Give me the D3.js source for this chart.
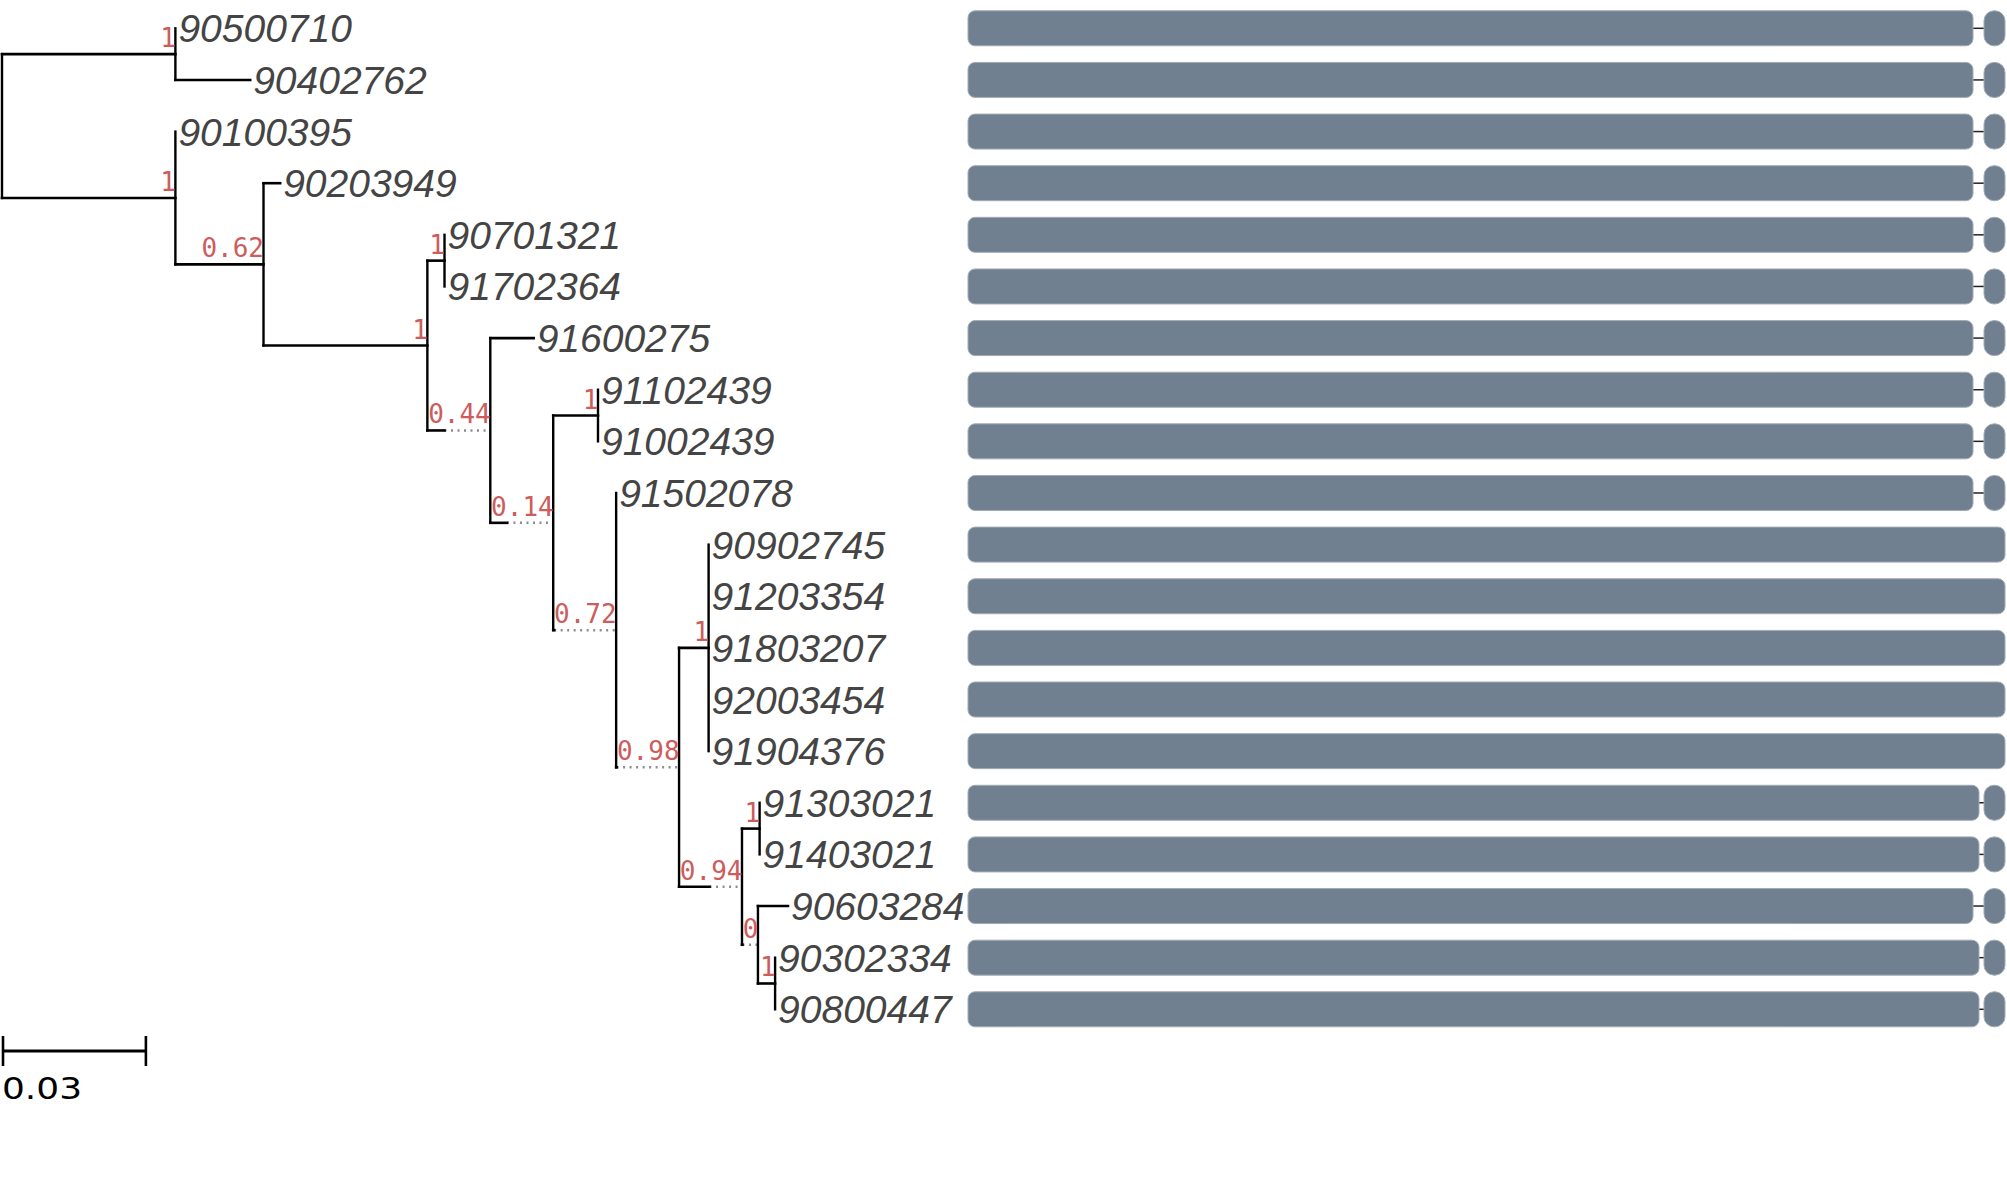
<!DOCTYPE html>
<html>
<head>
<meta charset="utf-8">
<script src="https://cdn.jsdelivr.net/npm/d3@7"></script>
<style>
  body { margin: 0; background: #fff; }
  svg { display: block; }
</style>
</head>
<body>
<div id="tree-plot"></div>
<script>
// tree: parallel arrays, order of children = order of rows
const nodeIds = [
  "root", "A", "90500710", "90402762", "B", "90100395", "C", "90203949",
  "D", "F", "90701321", "91702364", "E", "91600275", "G", "H",
  "91102439", "91002439", "I", "91502078", "J", "K", "90902745", "91203354",
  "91803207", "92003454", "91904376", "L", "M", "91303021", "91403021", "N",
  "90603284", "O", "90302334", "90800447"
];
const parentIds = [
  "", "root", "A", "A", "root", "B", "B", "C",
  "C", "D", "F", "F", "D", "E", "E", "G",
  "H", "H", "G", "I", "I", "J", "K", "K",
  "K", "K", "K", "J", "L", "M", "M", "L",
  "N", "N", "O", "O"
];
const branchLengths = [
  0, 0.0364, 0, 0.0157, 0.0364, 0, 0.0185, 0.0035,
  0.0344, 0.0036, 0, 0, 0.0036, 0.0091, 0.0035, 0.0094,
  0, 0, 0.0002, 0, 0.0001, 0.0062, 0, 0,
  0, 0, 0, 0.0064, 0.0037, 0, 0, 0.0001,
  0.0063, 0.0036, 0, 0
];
const supports = [
  null, "1", null, null, "1", null, "0.62", null,
  "1", "1", null, null, "0.44", null, "0.14", "1",
  null, null, "0.72", null, "0.98", "1", null, null,
  null, null, null, "0.94", "1", null, null, "0",
  null, "1", null, null
];

// domain faces, one per leaf in row order (sequence units)
const leafOrder = [
  "90500710", "90402762", "90100395", "90203949", "90701321", "91702364",
  "91600275", "91102439", "91002439", "91502078", "90902745", "91203354",
  "91803207", "92003454", "91904376", "91303021", "91403021", "90603284",
  "90302334", "90800447"
];
const mainEnd = [
  1005, 1005, 1005, 1005, 1005, 1005, 1005, 1005, 1005, 1005,
  1037, 1037, 1037, 1037, 1037, 1011, 1011, 1005, 1011, 1011
];
const tailStart = [
  1016, 1016, 1016, 1016, 1016, 1016, 1016, 1016, 1016, 1016,
  null, null, null, null, null, 1016, 1016, 1016, 1016, 1016
];
const seqLength = 1037;
const scaleBarValue = 0.03;

const width = 2007, height = 1179;

const svg = d3.select("#tree-plot").append("svg")
  .attr("width", width)
  .attr("height", height);

const table = nodeIds.map((id, i) => ({
  id: id, parent: parentIds[i] || null, bl: branchLengths[i], support: supports[i]
}));
const root = d3.stratify().id(d => d.id).parentId(d => d.parent)(table);

const xScale = d3.scaleLinear().domain([0, scaleBarValue]).range([0, 142.9]);
const yScale = d3.scalePoint().domain(leafOrder).range([28.3, 1009.3]);
const seqScale = d3.scaleLinear().domain([0, seqLength]).range([968, 2005]);

// measure support faces so short branches get stretched like in ete
const probe = svg.append("text")
  .attr("font-family", "DejaVu Sans Mono")
  .attr("font-size", 26);
function faceWidth(s) {
  if (s == null) return 0;
  probe.text(s);
  return probe.node().getComputedTextLength() + 0.3;
}

root.eachBefore(n => {
  if (!n.parent) { n.px = 2; n.solid = 0; return; }
  n.solid = xScale(n.data.bl);
  n.px = n.parent.px + Math.max(n.solid, faceWidth(n.data.support));
});
probe.remove();

root.eachAfter(n => {
  if (!n.children) n.py = yScale(n.id);
  else n.py = (n.children[0].py + n.children[n.children.length - 1].py) / 2;
});

const g = svg.append("g");
const nodes = root.descendants();
const nonRoot = nodes.filter(n => n.parent);

// dotted extensions
g.selectAll("line.ext")
  .data(nonRoot.filter(n => n.px - (n.parent.px + n.solid) > 0.5))
  .join("line")
  .attr("class", "ext")
  .attr("x1", n => n.parent.px + n.solid)
  .attr("x2", n => n.px)
  .attr("y1", n => n.py)
  .attr("y2", n => n.py)
  .attr("stroke", "#8c8c8c")
  .attr("stroke-width", 2.5)
  .attr("stroke-dasharray", "2,4.5");

// horizontal branches
g.selectAll("line.hbranch")
  .data(nonRoot.filter(n => n.solid > 0))
  .join("line")
  .attr("class", "hbranch")
  .attr("x1", n => n.parent.px)
  .attr("x2", n => n.parent.px + n.solid)
  .attr("y1", n => n.py)
  .attr("y2", n => n.py)
  .attr("stroke", "#000")
  .attr("stroke-width", 2.6)
  .attr("stroke-linecap", "square");

// vertical connectors
g.selectAll("line.vbranch")
  .data(nodes.filter(n => n.children))
  .join("line")
  .attr("class", "vbranch")
  .attr("x1", n => n.px)
  .attr("x2", n => n.px)
  .attr("y1", n => n.children[0].py)
  .attr("y2", n => n.children[n.children.length - 1].py)
  .attr("stroke", "#000")
  .attr("stroke-width", 2.4)
  .attr("stroke-linecap", "square");

// support values
g.selectAll("text.support")
  .data(nonRoot.filter(n => n.data.support != null))
  .join("text")
  .attr("class", "support")
  .attr("x", n => n.px + 0.5)
  .attr("y", n => n.py - 7)
  .attr("text-anchor", "end")
  .attr("font-family", "DejaVu Sans Mono")
  .attr("font-size", 26)
  .attr("fill", "#cd5c5c")
  .text(n => n.data.support);

// leaf names
g.selectAll("text.leaf")
  .data(root.leaves())
  .join("text")
  .attr("class", "leaf")
  .attr("x", n => n.px + 3)
  .attr("y", n => n.py + 14)
  .attr("font-family", "Liberation Sans")
  .attr("font-style", "italic")
  .attr("font-size", 39)
  .attr("fill", "#444")
  .text(n => n.id);

// domain faces
const rows = leafOrder.map((id, i) => ({ id: id, end: mainEnd[i], tail: tailStart[i] }));
const barH = 35;
const faces = svg.append("g").selectAll("g")
  .data(rows)
  .join("g")
  .attr("transform", d => `translate(0,${yScale(d.id)})`);

faces.filter(d => d.tail != null).append("line")
  .attr("x1", d => seqScale(d.end))
  .attr("x2", d => seqScale(d.tail))
  .attr("y1", 0).attr("y2", 0)
  .attr("stroke", "#222")
  .attr("stroke-width", 1.5);

faces.append("rect")
  .attr("x", seqScale(0))
  .attr("y", -barH / 2)
  .attr("width", d => seqScale(d.end) - seqScale(0))
  .attr("height", barH)
  .attr("rx", 7)
  .attr("fill", "slategray")
  .attr("stroke", "#a3abb3")
  .attr("stroke-width", 1);

faces.filter(d => d.tail != null).append("rect")
  .attr("x", d => seqScale(d.tail))
  .attr("y", -barH / 2)
  .attr("width", d => seqScale(seqLength) - seqScale(d.tail))
  .attr("height", barH)
  .attr("rx", 10)
  .attr("fill", "slategray")
  .attr("stroke", "#a3abb3")
  .attr("stroke-width", 1);

// scale bar
const sb = svg.append("g").attr("transform", "translate(3,1051)");
sb.append("line")
  .attr("x1", 0).attr("x2", xScale(scaleBarValue))
  .attr("y1", 0).attr("y2", 0)
  .attr("stroke", "#000").attr("stroke-width", 2.8);
sb.selectAll("line.tick")
  .data([0, scaleBarValue])
  .join("line")
  .attr("class", "tick")
  .attr("x1", d => xScale(d)).attr("x2", d => xScale(d))
  .attr("y1", -15).attr("y2", 15)
  .attr("stroke", "#000").attr("stroke-width", 2.6);
sb.append("text")
  .attr("x", -1)
  .attr("y", 48)
  .attr("font-family", "DejaVu Sans")
  .attr("font-size", 31)
  .attr("textLength", 80)
  .attr("lengthAdjust", "spacingAndGlyphs")
  .attr("fill", "#000")
  .text(String(scaleBarValue));
</script>
</body>
</html>
